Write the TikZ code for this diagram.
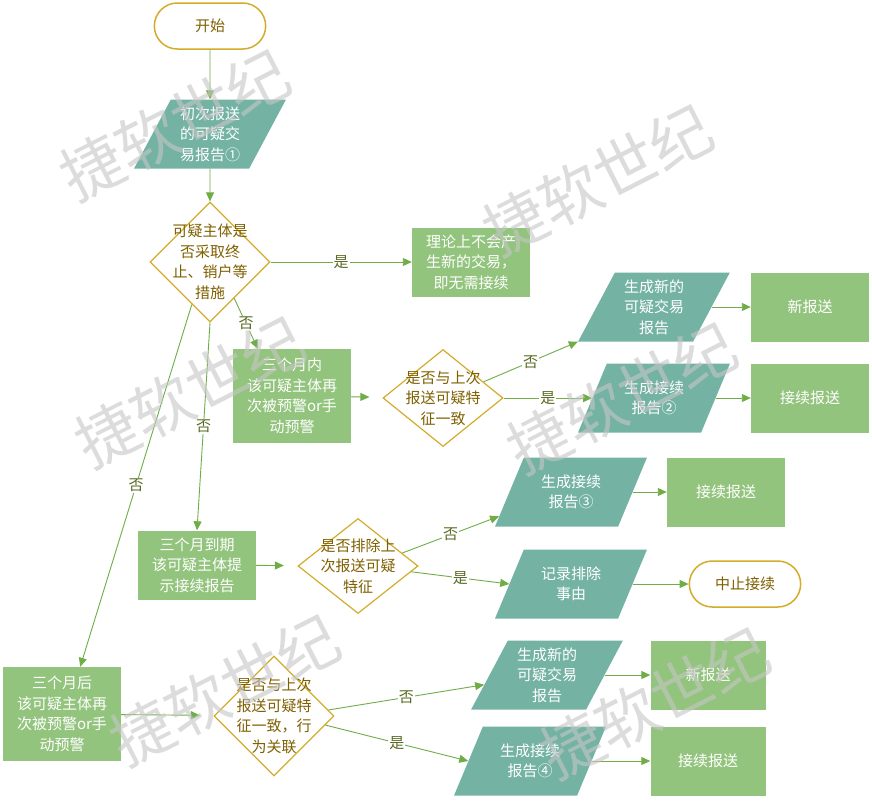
\documentclass[tikz,border=0pt]{standalone}
\usepackage{fontspec}
\setmainfont{Noto Sans CJK SC}
\usepackage{tikz}
\usetikzlibrary{arrows.meta,shapes.geometric,shapes.misc,calc}
\definecolor{leaf}{HTML}{93C47D}
\definecolor{tealfill}{HTML}{74B3A4}
\definecolor{gold}{HTML}{D4AC2B}
\definecolor{ochre}{HTML}{7F6000}
\definecolor{wire}{HTML}{70AD47}
\definecolor{tagc}{HTML}{5A6B24}

\begin{document}
\begin{tikzpicture}[x=1pt,y=-1pt]
\tikzset{every node/.style={font=\fontsize{15}{20.5}\selectfont,align=center}}
\tikzset{terminal/.style={rounded rectangle,draw=gold,line width=1.5pt,fill=white,text=ochre,minimum width=118pt,minimum height=46pt}}
\tikzset{process/.style={rectangle,fill=leaf,text=white,minimum width=118pt,minimum height=69pt,inner sep=2pt}}
\tikzset{report/.style={trapezium,trapezium left angle=63,trapezium right angle=117,trapezium stretches=true,fill=tealfill,text=white,minimum width=152pt,minimum height=69pt,inner sep=2pt}}
\tikzset{decision/.style={diamond,draw=gold,line width=1.2pt,fill=white,inner sep=0pt,minimum width=120pt,minimum height=120pt}}
\tikzset{dtext/.style={text=ochre}}
\tikzset{arr/.style={draw=wire,line width=0.9pt,-{Triangle[length=9pt,width=8pt]}}}
\tikzset{tag/.style={fill=white,text=tagc,inner sep=1pt}}
\tikzset{watermark/.style={rotate=27,text=gray!45,opacity=0.6,font=\fontsize{62}{62}\selectfont}}

\path[fill=white,use as bounding box] (0,0) rectangle (872,801);

\node[terminal] (start) at (210,26) {开始};
\node[report] (p1) at (210,134) {初次报送\\的可疑交\\易报告①};
\node[decision] (d1) at (210,262) {};
\node[dtext] (d1t) at (d1) {可疑主体是\\否采取终\\止、销户等\\措施};
\node[process] (theory) at (471,262) {理论上不会产\\生新的交易，\\即无需接续};

\node[process,minimum height=94pt] (m3in) at (292,396) {三个月内\\该可疑主体再\\次被预警or手\\动预警};
\node[decision,minimum height=97pt] (d2) at (443,398) {};
\node[dtext] (d2t) at (d2) {是否与上次\\报送可疑特\\征一致};
\node[report] (pnew1) at (654,307) {生成新的\\可疑交易\\报告};
\node[report] (pcont2) at (654,398) {生成接续\\报告②};
\node[process] (new1) at (810,307) {新报送};
\node[process] (cont2) at (810,398) {接续报送};

\node[process] (m3due) at (197,565) {三个月到期\\该可疑主体提\\示接续报告};
\node[decision,minimum height=95pt] (d3) at (358,566) {};
\node[dtext] (d3t) at (d3) {是否排除上\\次报送可疑\\特征};
\node[report] (pcont3) at (571,492) {生成接续\\报告③};
\node[report] (prec) at (571,584) {记录排除\\事由};
\node[process] (cont3) at (726,492) {接续报送};
\node[terminal] (stop) at (745,584) {中止接续};

\node[process,minimum height=94pt] (m3after) at (62,714) {三个月后\\该可疑主体再\\次被预警or手\\动预警};
\node[decision] (d4) at (274,716) {};
\node[dtext] (d4t) at (d4) {是否与上次\\报送可疑特\\征一致，行\\为关联};
\node[report] (pnew4) at (547,675) {生成新的\\可疑交易\\报告};
\node[report] (pcont4) at (530,761) {生成接续\\报告④};
\node[process,minimum width=115pt] (new4) at (708,675) {新报送};
\node[process,minimum width=115pt] (cont4) at (708,761) {接续报送};

\draw[arr] (start) -- (p1);
\draw[arr] (p1) -- (d1);
\draw[arr] (d1) -- node[tag]{是} (theory);
\draw[arr] ($(d1.east)!0.6!(d1.south)$) -- node[tag]{否} ([xshift=25pt]m3in.north west);
\draw[arr] (d1.south) -- node[tag]{否} (m3due.north);
\draw[arr] ($(d1.west)!0.7!(d1.south)$) -- node[tag]{否} ([xshift=-41pt]m3after.north east);

\draw[arr,shorten >=14pt] (m3in) -- (d2);
\draw[arr] ($(d2.north)!0.67!(d2.east)$) -- node[tag]{否} (pnew1.bottom left corner);
\draw[arr] (d2.east) -- node[tag]{是} (pcont2.left side);
\draw[arr] (pnew1.right side) -- (new1.west);
\draw[arr] (pcont2.right side) -- (cont2.west);

\draw[arr,shorten >=14pt] (m3due) -- (d3);
\draw[arr] ($(d3.north)!0.73!(d3.east)$) -- node[tag]{否} ($(pcont3.bottom left corner)!0.15!(pcont3.top left corner)$);
\draw[arr] ($(d3.east)!0.12!(d3.south)$) -- node[tag]{是} (prec.left side);
\draw[arr] (pcont3.right side) -- (cont3.west);
\draw[arr] (prec.right side) -- (stop.west);

\draw[arr,shorten >=14pt] (m3after) -- (d4);
\draw[arr] ($(d4.east)!0.1!(d4.north)$) -- node[tag]{否} ($(pnew4.bottom left corner)!0.36!(pnew4.top left corner)$);
\draw[arr] ($(d4.east)!0.15!(d4.south)$) -- node[tag]{是} (pcont4.left side);
\draw[arr] (pnew4.right side) -- (new4.west);
\draw[arr] (pcont4.right side) -- (cont4.west);

% watermark
\foreach \wx/\wy [count=\i] in {175/125, 598/180, 190/392, 622/398, 225/690, 655/703}
  \node[watermark] (wm\i) at (\wx,\wy) {捷软世纪};
\end{tikzpicture}
\end{document}
